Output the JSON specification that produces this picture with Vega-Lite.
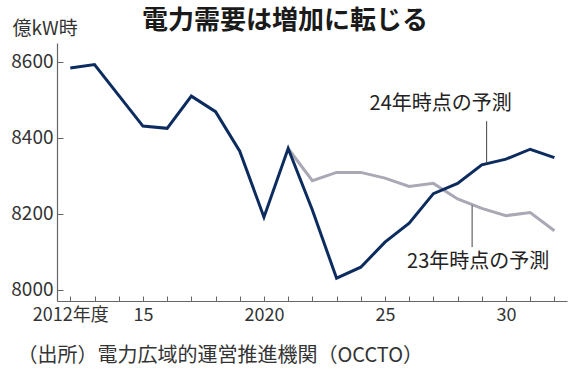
{
  "$schema": "https://vega.github.io/schema/vega-lite/v6.json",
  "autosize": {"type": "none"},
  "width": 510,
  "height": 258,
  "padding": {"left": 57, "top": 43, "right": 11, "bottom": 69},
  "background": "white",
  "title": {
    "text": "電力需要は増加に転じる",
    "font": "Noto Sans CJK JP",
    "fontSize": 26,
    "fontWeight": "bold",
    "color": "#1a1a1a",
    "anchor": "start",
    "frame": "group",
    "dx": 85,
    "dy": 25,
    "offset": 10
  },
  "config": {
    "view": {"stroke": null},
    "font": "Noto Sans CJK JP",
    "axis": {"labelOverlap": false}
  },
  "datasets": {
    "series": [
      {"year": 2012, "value": 8584, "series": "24年時点の予測"},
      {"year": 2013, "value": 8593, "series": "24年時点の予測"},
      {"year": 2014, "value": 8512, "series": "24年時点の予測"},
      {"year": 2015, "value": 8431, "series": "24年時点の予測"},
      {"year": 2016, "value": 8425, "series": "24年時点の予測"},
      {"year": 2017, "value": 8510, "series": "24年時点の予測"},
      {"year": 2018, "value": 8469, "series": "24年時点の予測"},
      {"year": 2019, "value": 8365, "series": "24年時点の予測"},
      {"year": 2020, "value": 8191, "series": "24年時点の予測"},
      {"year": 2021, "value": 8372, "series": "24年時点の予測"},
      {"year": 2022, "value": 8210, "series": "24年時点の予測"},
      {"year": 2023, "value": 8030, "series": "24年時点の予測"},
      {"year": 2024, "value": 8059, "series": "24年時点の予測"},
      {"year": 2025, "value": 8125, "series": "24年時点の予測"},
      {"year": 2026, "value": 8175, "series": "24年時点の予測"},
      {"year": 2027, "value": 8253, "series": "24年時点の予測"},
      {"year": 2028, "value": 8280, "series": "24年時点の予測"},
      {"year": 2029, "value": 8329, "series": "24年時点の予測"},
      {"year": 2030, "value": 8344, "series": "24年時点の予測"},
      {"year": 2031, "value": 8370, "series": "24年時点の予測"},
      {"year": 2032, "value": 8348, "series": "24年時点の予測"},
      {"year": 2021, "value": 8372, "series": "23年時点の予測"},
      {"year": 2022, "value": 8287, "series": "23年時点の予測"},
      {"year": 2023, "value": 8309, "series": "23年時点の予測"},
      {"year": 2024, "value": 8309, "series": "23年時点の予測"},
      {"year": 2025, "value": 8294, "series": "23年時点の予測"},
      {"year": 2026, "value": 8272, "series": "23年時点の予測"},
      {"year": 2027, "value": 8280, "series": "23年時点の予測"},
      {"year": 2028, "value": 8239, "series": "23年時点の予測"},
      {"year": 2029, "value": 8214, "series": "23年時点の予測"},
      {"year": 2030, "value": 8195, "series": "23年時点の予測"},
      {"year": 2031, "value": 8203, "series": "23年時点の予測"},
      {"year": 2032, "value": 8155, "series": "23年時点の予測"}
    ],
    "leaders": [
      {"year": 2029.2, "value": 8444, "value2": 8332},
      {"year": 2028.6, "value": 8222, "value2": 8112}
    ],
    "labels": [
      {"year": 2027.3, "value": 8488, "text": "24年時点の予測"},
      {"year": 2028.85, "value": 8073, "text": "23年時点の予測"}
    ]
  },
  "encoding": {
    "x": {
      "field": "year", "type": "quantitative",
      "scale": {"domain": [2011.45, 2032.52], "nice": false, "zero": false},
      "axis": {
        "values": [2012,2013,2014,2015,2016,2017,2018,2019,2020,2021,2022,2023,2024,2025,2026,2027,2028,2029,2030,2031,2032],
        "labelExpr": "datum.value == 2012 ? '2012年度' : datum.value == 2015 ? '15' : datum.value == 2020 ? '2020' : datum.value == 2025 ? '25' : datum.value == 2030 ? '30' : ''",
        "grid": false,
        "domainColor": "#666",
        "domainWidth": 1.2,
        "tickColor": "#666",
        "tickSize": -5,
        "labelPadding": 10,
        "labelFont": "Noto Sans CJK JP",
        "labelFontSize": 18,
        "labelColor": "#333",
        "labelOverlap": false,
        "labelBound": false,
        "labelFlush": false,
        "title": "（出所）電力広域的運営推進機関（OCCTO）",
        "titleFont": "Noto Sans CJK JP",
        "titleFontSize": 20,
        "titleFontWeight": "normal",
        "titleColor": "#333",
        "titleAnchor": "start",
        "titleAlign": "left",
        "titleBaseline": "alphabetic",
        "titleX": -40,
        "titleY": 60
      }
    },
    "y": {
      "field": "value", "type": "quantitative",
      "scale": {"domain": [7970, 8650], "nice": false, "zero": false},
      "axis": {
        "values": [8000, 8200, 8400, 8600],
        "format": "d",
        "grid": false,
        "domainColor": "#666",
        "domainWidth": 1.2,
        "tickColor": "#666",
        "tickSize": -6,
        "labelPadding": 10,
        "labelFont": "Noto Sans CJK JP",
        "labelFontSize": 19,
        "labelColor": "#333",
        "labelOverlap": false,
        "labelBound": false,
        "labelFlush": false,
        "title": "億kW時",
        "titleFont": "Noto Sans CJK JP",
        "titleFontSize": 19,
        "titleFontWeight": "normal",
        "titleColor": "#333",
        "titleAngle": 0,
        "titleAlign": "left",
        "titleBaseline": "alphabetic",
        "titleX": -45,
        "titleY": -9
      }
    }
  },
  "layer": [
    {
      "data": {"name": "series"},
      "transform": [{"filter": "datum.series === '23年時点の予測'"}],
      "mark": {"type": "line", "strokeWidth": 3, "color": "#a9a9b6", "strokeJoin": "miter"}
    },
    {
      "data": {"name": "series"},
      "transform": [{"filter": "datum.series === '24年時点の予測'"}],
      "mark": {"type": "line", "strokeWidth": 3, "color": "#0c2b5e", "strokeJoin": "miter"}
    },
    {
      "data": {"name": "leaders"},
      "mark": {"type": "rule", "color": "#444", "strokeWidth": 1},
      "encoding": {
        "y2": {"field": "value2"}
      }
    },
    {
      "data": {"name": "labels"},
      "mark": {"type": "text", "font": "Noto Sans CJK JP", "fontSize": 20, "color": "#222", "align": "center", "baseline": "middle"},
      "encoding": {
        "text": {"field": "text"}
      }
    }
  ]
}
